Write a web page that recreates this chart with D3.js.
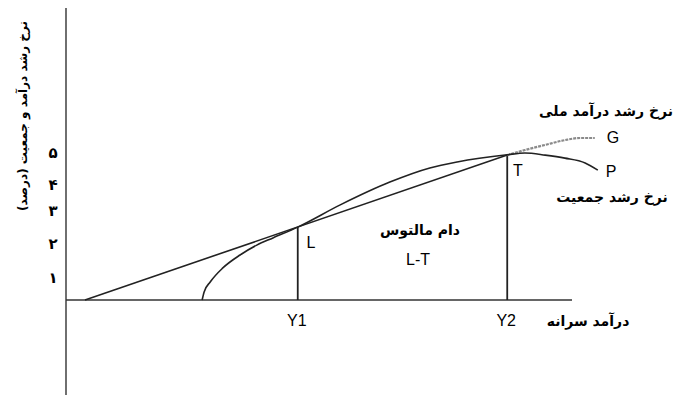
<!DOCTYPE html>
<html>
<head>
<meta charset="utf-8">
<script src="https://cdn.jsdelivr.net/npm/d3@7"></script>
<style>
  body { margin: 0; background: #fff; }
  .fa { font-family: "DejaVu Sans", sans-serif; font-weight: bold; }
  .en { font-family: "Liberation Sans", Arial, sans-serif; }
</style>
</head>
<body>
<div class="container"></div>
<script>
// per-capita income (x) vs growth rate in percent (y)
const incomeLine = [[0.375, 0], [8.72, 4.83]];          // national income growth, straight part
const incomeTail = [[8.72, 4.83], [9.07, 5.0], [9.47, 5.17], [9.86, 5.33], [10.16, 5.4], [10.45, 5.4]];
const populationCurve = [
  [2.69, 0], [2.73, 0.27], [2.85, 0.6], [3.10, 1.07], [3.44, 1.5], [3.77, 1.83],
  [4.09, 2.07], [4.58, 2.43], [5.42, 3.17], [6.40, 3.93], [7.19, 4.4], [7.73, 4.6],
  [8.72, 4.84], [9.07, 4.9], [9.47, 4.83], [9.86, 4.73], [10.26, 4.57], [10.51, 4.33]
];
const pointL = [4.58, 2.43];
const pointT = [8.72, 4.83];
const yTickValues = [0.77, 1.9, 3.0, 3.87, 4.93];
const yTickLabels = ["۱", "۲", "۳", "۴", "۵"];
const xTicks = [["Y1", pointL[0]], ["Y2", pointT[0]]];

const width = 677, height = 396;

const x = d3.scaleLinear().domain([0, 10]).range([66, 572]);
const y = d3.scaleLinear().domain([0, 5]).range([300, 150]);

const svg = d3.select(".container").append("svg")
  .attr("width", width)
  .attr("height", height);

// axes
svg.append("line")
  .attr("x1", x(0)).attr("x2", x(0))
  .attr("y1", 8).attr("y2", 395)
  .attr("stroke", "#222").attr("stroke-width", 1.3);
svg.append("line")
  .attr("x1", x(0)).attr("x2", x(10))
  .attr("y1", y(0)).attr("y2", y(0))
  .attr("stroke", "#333").attr("stroke-width", 1.6);

// y tick labels (persian digits)
svg.append("g").selectAll("text")
  .data(yTickValues)
  .enter().append("text")
  .attr("class", "fa")
  .attr("x", 53)
  .attr("y", d => y(d) + 6)
  .attr("text-anchor", "middle")
  .attr("font-size", 15)
  .text((d, i) => yTickLabels[i]);

// x tick labels
svg.append("g").selectAll("text")
  .data(xTicks)
  .enter().append("text")
  .attr("class", "en")
  .attr("x", d => x(d[1]) - 1)
  .attr("y", 326)
  .attr("text-anchor", "middle")
  .attr("font-size", 16)
  .text(d => d[0]);

// axis titles
svg.append("text")
  .attr("class", "fa")
  .attr("transform", "translate(27,116) rotate(-90)")
  .attr("text-anchor", "middle")
  .attr("font-size", 12)
  .text("نرخ رشد درآمد و جمعیت (درصد)");
svg.append("text")
  .attr("class", "fa")
  .attr("x", 588).attr("y", 326)
  .attr("text-anchor", "middle")
  .attr("font-size", 14)
  .text("درآمد سرانه");

const line = d3.line().x(d => x(d[0])).y(d => y(d[1]));
const curve = d3.line().x(d => x(d[0])).y(d => y(d[1])).curve(d3.curveMonotoneX);

// drop lines at L and T
[pointL, pointT].forEach(p => {
  svg.append("line")
    .attr("x1", x(p[0])).attr("x2", x(p[0]))
    .attr("y1", y(p[1])).attr("y2", y(0))
    .attr("stroke", "#222").attr("stroke-width", 1.8);
});

// national income growth rate
svg.append("path")
  .attr("d", line(incomeLine))
  .attr("fill", "none").attr("stroke", "#222").attr("stroke-width", 1.6);
svg.append("path")
  .attr("d", curve(incomeTail))
  .attr("fill", "none").attr("stroke", "#8a8a8a").attr("stroke-width", 2.2)
  .attr("stroke-dasharray", "3,1");

// population growth rate
svg.append("path")
  .attr("d", curve(populationCurve))
  .attr("fill", "none").attr("stroke", "#222").attr("stroke-width", 1.6);

// point and curve labels
const labels = [
  ["L", 311, 248], ["T", 518, 176], ["G", 613, 143], ["P", 611, 177], ["L-T", 418, 265]
];
svg.append("g").selectAll("text")
  .data(labels)
  .enter().append("text")
  .attr("class", "en")
  .attr("x", d => d[1]).attr("y", d => d[2])
  .attr("text-anchor", "middle")
  .attr("font-size", 16)
  .text(d => d[0]);

const faLabels = [
  ["نرخ رشد درآمد ملی", 606, 116],
  ["نرخ رشد جمعیت", 612, 202],
  ["دام مالتوس", 420, 235]
];
svg.append("g").selectAll("text")
  .data(faLabels)
  .enter().append("text")
  .attr("class", "fa")
  .attr("x", d => d[1]).attr("y", d => d[2])
  .attr("text-anchor", "middle")
  .attr("font-size", 14)
  .text(d => d[0]);
</script>
</body>
</html>
